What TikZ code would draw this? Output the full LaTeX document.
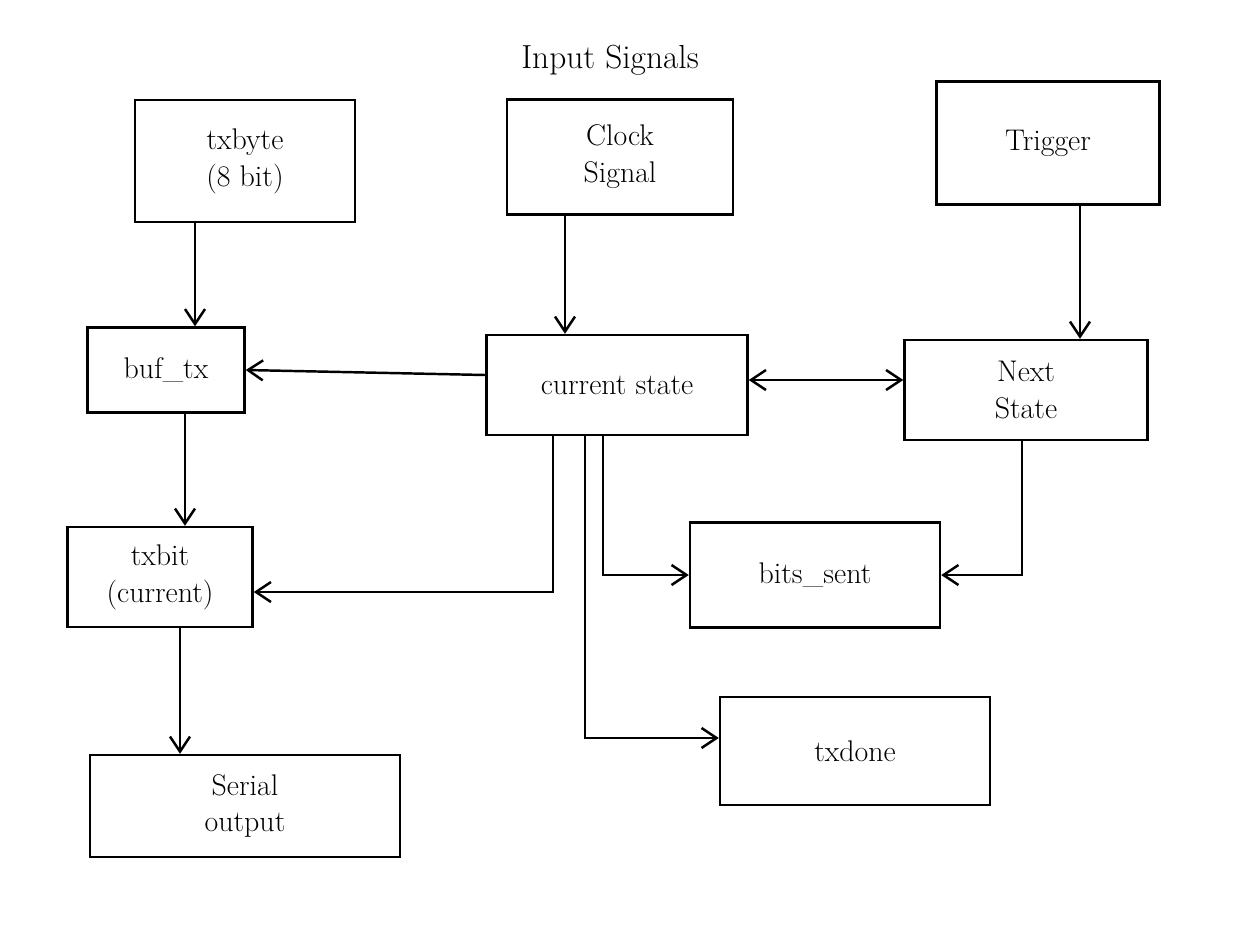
\documentclass[tikz,border=0pt]{standalone}
\usepackage{tikz}
\usetikzlibrary{arrows.meta,positioning}
\tikzset{
    sigbox/.style={draw, line width=1.4pt, align=center, inner sep=2pt,
        font=\fontsize{17}{21}\selectfont},
    sigarrow/.style={-{Straight Barb[length=3mm,width=4mm]}, line width=1.4pt},
    sigboth/.style={{Straight Barb[length=3mm,width=4mm]}-{Straight Barb[length=3mm,width=4mm]}, line width=1.4pt}
}
\begin{document}
\begin{tikzpicture}
    \useasboundingbox (0,0) rectangle (24.92,-18.7);

    \node[font=\fontsize{19}{23}\selectfont] (title) at (12.2,-1.2) {Input Signals};

    \node[sigbox, minimum width=4.4cm, minimum height=2.44cm] (txbyte)
        at (4.90,-3.22) {txbyte\\(8 bit)};
    \node[sigbox, minimum width=4.52cm, minimum height=2.3cm] (clock)
        at (12.40,-3.14) {Clock\\Signal};
    \node[sigbox, minimum width=4.46cm, minimum height=2.46cm] (trigger)
        at (20.96,-2.86) {Trigger};

    \node[sigbox, minimum width=3.14cm, minimum height=1.7cm] (buftx)
        at (3.32,-7.40) {buf\_tx};
    \node[sigbox, minimum width=5.22cm, minimum height=2.0cm] (cur)
        at (12.34,-7.70) {current state};
    \node[sigbox, minimum width=4.86cm, minimum height=2.0cm] (next)
        at (20.52,-7.80) {Next\\State};

    \node[sigbox, minimum width=3.7cm, minimum height=2.0cm] (txbit)
        at (3.20,-11.54) {txbit\\(current)};
    \node[sigbox, minimum width=5.0cm, minimum height=2.1cm] (bitssent)
        at (16.30,-11.50) {bits\_sent};

    \node[sigbox, minimum width=5.4cm, minimum height=2.16cm] (txdone)
        at (17.10,-15.02) {txdone};
    \node[sigbox, minimum width=6.2cm, minimum height=2.04cm] (serial)
        at (4.90,-16.12) {Serial\\output};

    % inputs
    \draw[sigarrow] ([xshift=-1.0cm]txbyte.south) -- ([xshift=-1.0cm]txbyte.south |- buftx.north);
    \draw[sigarrow] ([xshift=-1.1cm]clock.south) -- ([xshift=-1.1cm]clock.south |- cur.north);
    \draw[sigarrow] ([xshift=0.64cm]trigger.south) -- ([xshift=0.64cm]trigger.south |- next.north);

    % state
    \draw[sigarrow] ([yshift=0.2cm]cur.west) -- (buftx.east);
    \draw[sigboth] ([yshift=0.1cm]cur.east) -- ([yshift=0.1cm]cur.east -| next.west);

    % outputs
    \draw[sigarrow] ([xshift=0.38cm]buftx.south) -- ([xshift=0.38cm]buftx.south |- txbit.north);
    \draw[sigarrow] ([xshift=-1.28cm]cur.south) |- ([yshift=-0.3cm]txbit.east);
    \draw[sigarrow] ([xshift=-0.28cm]cur.south) |- (bitssent.west);
    \draw[sigarrow] ([xshift=-0.64cm]cur.south) |- ([yshift=0.26cm]txdone.west);
    \draw[sigarrow] ([xshift=-0.08cm]next.south) |- (bitssent.east);
    \draw[sigarrow] ([xshift=0.4cm]txbit.south) -- ([xshift=0.4cm]txbit.south |- serial.north);
\end{tikzpicture}
\end{document}
